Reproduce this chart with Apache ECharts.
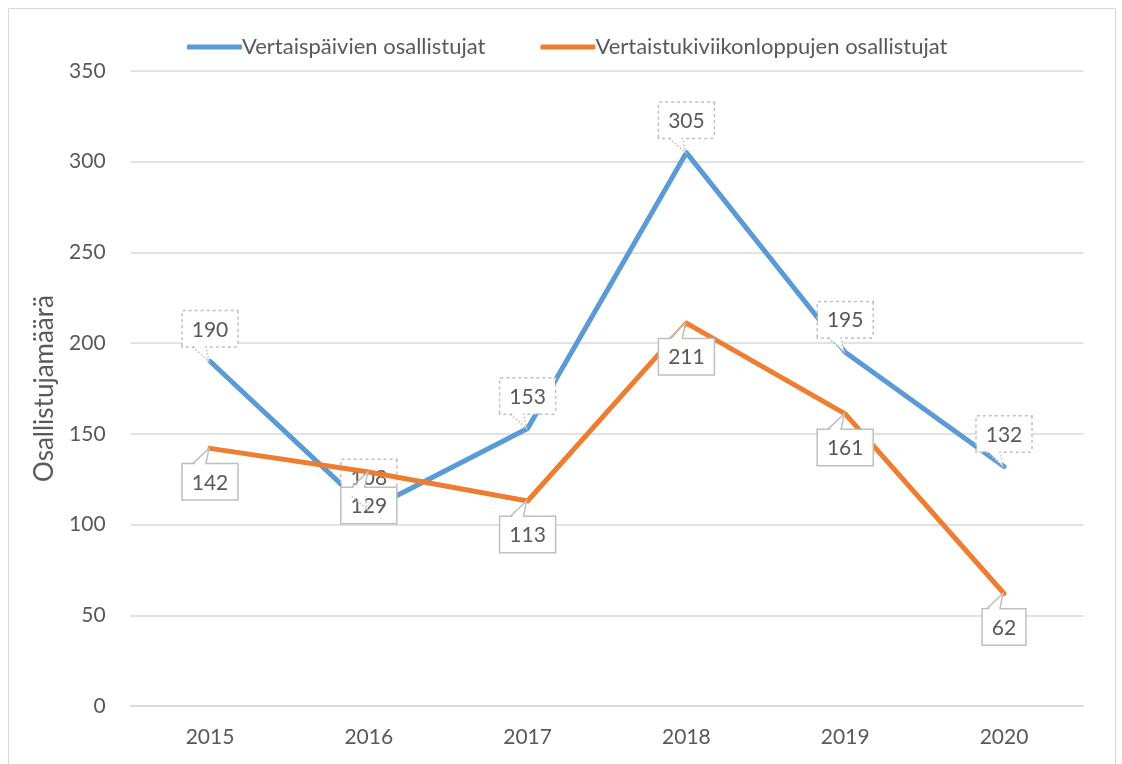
<!DOCTYPE html>
<html><head><meta charset="utf-8">
<script src="https://cdn.jsdelivr.net/npm/echarts@6/dist/echarts.min.js"></script>
<style>html,body{margin:0;padding:0;background:#fff}#c{width:1122px;height:764px}</style>
</head><body><div id="c"></div>
<script>
const years = ['2015','2016','2017','2018','2019','2020'];
const vertaispaivat = [190, 108, 153, 305, 195, 132];
const vertaistuki = [142, 129, 113, 211, 161, 62];
const seriesNames = ['Vertaispäivien osallistujat', 'Vertaistukiviikonloppujen osallistujat'];
const yAxisName = 'Osallistujamäärä';

const FONT = 'Lato, "Open Sans", sans-serif';
const TXT = '#595959';
const BORDER = '#bfbfbf';

// callout tails: [categoryIndex, value, seriesIndex]
const tailData = [];
vertaispaivat.forEach((v, i) => tailData.push([i, v, 0]));
vertaistuki.forEach((v, i) => tailData.push([i, v, 1]));

function renderTail(params, api) {
  const p = api.coord([api.value(0), api.value(1)]);
  const s = api.value(2);
  const dir = s === 0 ? -1 : 1;
  const gap = s === 0 ? 14 : 15;
  const baseY = p[1] + dir * gap;
  const xl = p[0] - 17, xr = p[0] - 4;
  const tip = [p[0] - 1, p[1]];
  return {
    type: 'group',
    children: [
      {type: 'polygon', shape: {points: [[xl + 1, baseY + dir * 1.5], [xr - 1, baseY + dir * 1.5], tip]},
       style: {fill: '#fff', stroke: null}},
      {type: 'polyline', shape: {points: [[xl, baseY], tip, [xr, baseY]]},
       style: {fill: null, stroke: BORDER, lineWidth: 1.5, lineDash: s === 0 ? [1.5, 2] : null}}
    ]
  };
}

const chart = echarts.init(document.getElementById('c'));
chart.setOption({
  animation: false,
  textStyle: {fontFamily: FONT, color: TXT},
  graphic: [{type: 'rect', shape: {x: 8.5, y: 8.5, width: 1107, height: 770}, style: {fill: 'none', stroke: '#d9d9d9', lineWidth: 1}, silent: true}],
  legend: {
    top: 31, left: 182, itemWidth: 55, itemHeight: 5, itemGap: 55,
    textStyle: {fontFamily: FONT, fontSize: 22, color: TXT, padding: [0, 0, 0, -5]},
    data: [{name: seriesNames[0], icon: 'roundRect'}, {name: seriesNames[1], icon: 'roundRect'}]
  },
  grid: {left: 130.6, right: 38.6, top: 71, bottom: 58, containLabel: false},
  xAxis: {
    type: 'category', data: years, boundaryGap: true,
    axisLine: {show: true, lineStyle: {color: '#d9d9d9', width: 1.5}},
    axisTick: {show: false},
    axisLabel: {fontFamily: FONT, fontSize: 21, color: TXT, margin: 21}
  },
  yAxis: {
    type: 'value', min: 0, max: 350, interval: 50,
    name: yAxisName, nameLocation: 'middle', nameGap: 73, nameRotate: 90,
    nameTextStyle: {fontFamily: FONT, fontSize: 26, color: TXT},
    axisLine: {show: false}, axisTick: {show: false},
    axisLabel: {fontFamily: FONT, fontSize: 21, color: TXT, margin: 25},
    splitLine: {lineStyle: {color: '#d9d9d9', width: 1.5}}
  },
  series: [
    {
      name: seriesNames[0], type: 'line', data: vertaispaivat,
      symbol: 'circle', showSymbol: true, symbolSize: 2,
      lineStyle: {color: '#5B9BD5', width: 5, cap: 'round', join: 'round'},
      itemStyle: {color: '#5B9BD5'},
      label: {
        show: true, position: 'top', distance: 14,
        fontFamily: FONT, fontSize: 21, color: TXT,
        backgroundColor: '#fff', borderColor: BORDER, borderWidth: 1.5, borderType: 'dotted',
        padding: [8, 9, 6, 9]
      },
      z: 2
    },
    {
      name: seriesNames[1], type: 'line', data: vertaistuki,
      symbol: 'circle', showSymbol: true, symbolSize: 2,
      lineStyle: {color: '#ED7D31', width: 5, cap: 'round', join: 'round'},
      itemStyle: {color: '#ED7D31'},
      label: {
        show: true, position: 'bottom', distance: 15,
        fontFamily: FONT, fontSize: 21, color: TXT,
        backgroundColor: '#fff', borderColor: BORDER, borderWidth: 1.5,
        padding: [8, 9, 6, 9]
      },
      z: 3
    },
    {
      name: 'tails', type: 'custom', coordinateSystem: 'cartesian2d',
      data: tailData, encode: {x: 0, y: 1}, renderItem: renderTail,
      silent: true, z: 5
    }
  ]
});
</script></body></html>
